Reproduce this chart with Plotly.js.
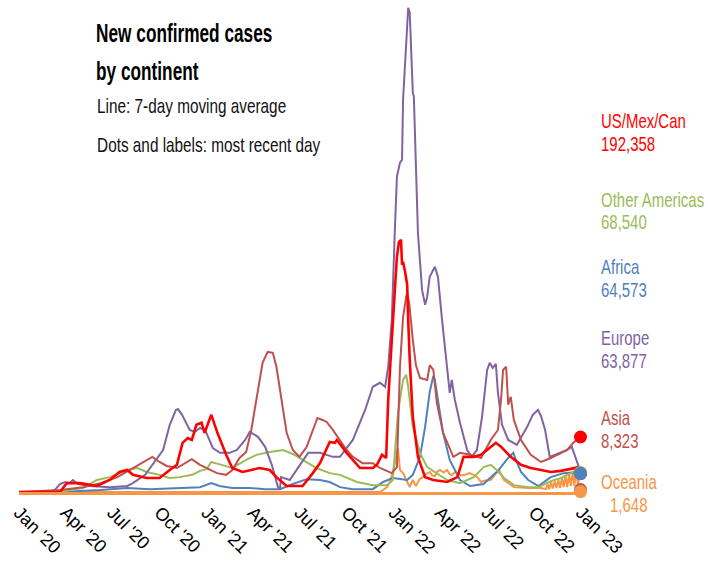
<!DOCTYPE html>
<html>
<head>
<meta charset="utf-8">
<script src="https://cdn.plot.ly/plotly-3.0.1.min.js"></script>
<style>
  html, body { margin: 0; padding: 0; background: #fff; }
  #chart { width: 708px; height: 561px; }
  /* narrow the annotation lettering to imitate the condensed face of the original */
  #chart .annotation-text {
    transform-box: fill-box;
    transform-origin: 0% 50%;
    transform: scaleX(0.73);
  }
  #chart .annotation[data-index="0"] .annotation-text,
  #chart .annotation[data-index="1"] .annotation-text {
    transform: scaleX(0.69);
  }
</style>
</head>
<body>
<div id="chart"></div>
<script>
// ---- Data (7-day moving average of new cases, in thousands) ----
const continents = ['US/Mex/Can', 'Other Americas', 'Africa', 'Europe', 'Asia', 'Oceania'];
const lastDate = '2022-12-31';
const lastDayValues = [192358, 68540, 64573, 63877, 8323, 1648];

const usDates = ['2020-01-01','2020-03-21','2020-03-31','2020-04-04','2020-04-29','2020-06-01','2020-06-26','2020-07-15','2020-07-30','2020-08-10','2020-09-06','2020-10-01','2020-10-21','2020-11-04','2020-11-15','2020-11-25','2020-12-03','2020-12-12','2020-12-22','2020-12-28','2021-01-10','2021-01-22','2021-02-08','2021-02-20','2021-03-12','2021-04-14','2021-05-04','2021-05-17','2021-06-06','2021-07-07','2021-07-27','2021-08-10','2021-08-29','2021-09-08','2021-09-12','2021-10-01','2021-10-27','2021-11-21','2021-11-29','2021-12-09','2021-12-17','2021-12-21','2021-12-28','2022-01-07','2022-01-11','2022-01-15','2022-01-17','2022-01-19','2022-01-23','2022-01-27','2022-01-29','2022-02-01','2022-02-07','2022-02-17','2022-03-03','2022-03-19','2022-04-15','2022-05-05','2022-05-17','2022-06-06','2022-06-20','2022-07-09','2022-07-19','2022-07-29','2022-08-17','2022-09-06','2022-09-25','2022-10-15','2022-11-03','2022-11-23','2022-12-12','2022-12-28'];
const usCases = [0,0,24,31,31,21,42,70,77,60,49,49,77,95,172,189,182,235,242,207,270,207,130,84,70,84,77,52,21,21,66,101,175,172,182,137,84,84,95,130,119,322,532,823,875,882,795,805,770,725,602,462,263,123,52,42,35,52,123,123,130,158,172,158,123,95,84,77,70,74,80,87];

const amDates = ['2020-01-01','2020-03-21','2020-04-09','2020-05-05','2020-06-01','2020-06-26','2020-07-30','2020-08-19','2020-09-06','2020-10-01','2020-10-21','2020-11-09','2020-12-04','2020-12-19','2021-01-01','2021-01-10','2021-01-30','2021-02-20','2021-03-19','2021-04-08','2021-05-04','2021-05-30','2021-06-18','2021-07-07','2021-08-03','2021-08-29','2021-09-18','2021-10-21','2021-11-21','2021-12-19','2021-12-30','2022-01-09','2022-01-19','2022-01-25','2022-01-29','2022-02-07','2022-02-21','2022-03-07','2022-03-26','2022-04-15','2022-05-10','2022-06-06','2022-06-25','2022-07-09','2022-07-19','2022-08-04','2022-08-23','2022-09-20','2022-10-10','2022-11-03','2022-11-23','2022-12-12','2022-12-28'];
const amCases = [0,0,7,14,42,52,77,84,70,60,49,52,60,74,80,105,95,84,112,130,140,147,133,112,84,66,60,35,24,24,42,276,392,410,368,228,137,87,66,42,31,52,87,95,80,49,24,17,17,38,49,66,84];

const afDates = ['2020-01-01','2020-03-21','2020-06-08','2020-07-30','2020-09-13','2020-11-09','2020-12-19','2021-01-10','2021-01-26','2021-02-20','2021-03-26','2021-04-25','2021-05-24','2021-06-18','2021-07-15','2021-08-10','2021-08-29','2021-09-18','2021-10-13','2021-11-21','2021-12-11','2021-12-30','2022-01-27','2022-02-07','2022-02-21','2022-03-03','2022-03-12','2022-03-19','2022-03-22','2022-03-28','2022-04-07','2022-04-20','2022-05-10','2022-05-30','2022-06-25','2022-07-23','2022-08-12','2022-08-22','2022-08-27','2022-09-06','2022-09-20','2022-10-10','2022-11-03','2022-11-28','2022-12-28'];
const afCases = [0,0,7,14,10,14,17,31,21,14,14,10,10,28,45,42,35,17,10,10,35,49,42,60,123,228,350,406,392,322,207,112,42,21,28,74,119,137,112,70,42,21,52,66,70];

const euDates = ['2020-01-01','2020-03-01','2020-03-11','2020-03-21','2020-03-31','2020-04-09','2020-04-15','2020-04-25','2020-05-18','2020-06-26','2020-07-30','2020-08-10','2020-09-03','2020-09-22','2020-10-08','2020-10-21','2020-11-02','2020-11-06','2020-11-14','2020-11-29','2020-12-09','2020-12-19','2020-12-29','2021-01-13','2021-01-27','2021-02-15','2021-03-01','2021-03-17','2021-03-26','2021-04-05','2021-04-11','2021-04-25','2021-05-08','2021-05-20','2021-05-24','2021-05-26','2021-06-12','2021-07-02','2021-07-18','2021-08-10','2021-09-04','2021-09-18','2021-10-13','2021-11-06','2021-11-21','2021-12-05','2021-12-15','2021-12-21','2021-12-28','2022-01-03','2022-01-07','2022-01-13','2022-01-17','2022-01-19','2022-01-25','2022-01-29','2022-02-01','2022-02-03','2022-02-07','2022-02-09','2022-02-13','2022-02-17','2022-02-25','2022-03-03','2022-03-07','2022-03-12','2022-03-22','2022-03-28','2022-04-05','2022-04-15','2022-04-20','2022-04-24','2022-04-30','2022-05-10','2022-05-24','2022-06-02','2022-06-12','2022-06-22','2022-07-02','2022-07-07','2022-07-13','2022-07-19','2022-07-23','2022-07-31','2022-08-12','2022-08-29','2022-09-18','2022-09-29','2022-10-09','2022-10-15','2022-10-23','2022-11-01','2022-11-21','2022-12-05','2022-12-14','2022-12-20','2022-12-30'];
const euCases = [0,0,7,28,35,31,42,28,21,17,21,31,60,105,147,235,287,290,270,217,210,224,217,154,137,137,147,182,210,200,193,158,95,17,10,52,42,95,137,137,123,123,182,287,368,382,368,438,602,917,1103,1152,1162,1372,1547,1694,1677,1582,1397,1383,1138,907,707,655,683,753,788,753,602,438,347,392,322,242,147,123,147,263,427,452,434,448,347,235,182,165,228,270,287,266,217,123,137,147,158,130,77];

const asDates = ['2020-01-01','2020-02-11','2020-03-21','2020-05-05','2020-06-08','2020-07-11','2020-08-10','2020-09-03','2020-09-17','2020-10-01','2020-10-15','2020-11-04','2020-11-20','2020-12-03','2020-12-19','2021-01-21','2021-02-08','2021-02-20','2021-03-06','2021-03-19','2021-03-29','2021-04-08','2021-04-20','2021-04-30','2021-05-10','2021-05-17','2021-05-27','2021-06-06','2021-06-18','2021-07-01','2021-07-15','2021-07-25','2021-08-05','2021-08-15','2021-08-23','2021-09-04','2021-09-18','2021-10-01','2021-10-13','2021-11-01','2021-11-21','2021-12-05','2021-12-28','2022-01-07','2022-01-13','2022-01-19','2022-01-25','2022-01-27','2022-01-31','2022-02-03','2022-02-07','2022-02-13','2022-02-21','2022-03-07','2022-03-12','2022-03-19','2022-03-26','2022-04-07','2022-04-27','2022-05-10','2022-05-30','2022-06-20','2022-07-09','2022-07-23','2022-07-29','2022-08-02','2022-08-08','2022-08-12','2022-08-17','2022-08-23','2022-09-06','2022-09-25','2022-10-15','2022-11-03','2022-11-23','2022-12-05','2022-12-17','2022-12-28'];
const asCases = [0,3,7,17,31,52,84,108,123,105,91,84,101,115,95,66,60,77,119,140,217,322,452,490,487,438,322,207,147,123,158,207,259,252,245,217,182,147,123,101,101,84,66,87,438,612,682,696,661,602,532,444,399,392,444,427,311,207,123,137,130,119,182,217,322,427,438,305,333,252,182,130,105,119,137,147,172,189];

const ocDates = ['2020-01-01','2021-12-05','2021-12-19','2021-12-26','2022-01-03','2022-01-09','2022-01-13','2022-01-19','2022-01-27','2022-02-01','2022-02-07','2022-02-13','2022-02-20','2022-02-27','2022-03-05','2022-03-12','2022-03-17','2022-03-22','2022-03-27','2022-04-01','2022-04-08','2022-04-15','2022-04-20','2022-04-24','2022-05-01','2022-05-05','2022-05-12','2022-05-20','2022-05-28','2022-06-06','2022-06-13','2022-06-20','2022-06-28','2022-07-09','2022-07-19','2022-07-25','2022-08-04','2022-08-14','2022-08-23','2022-09-20','2022-10-15','2022-10-25','2022-10-28','2022-10-31','2022-11-04','2022-11-07','2022-11-11','2022-11-14','2022-11-18','2022-11-21','2022-11-25','2022-11-28','2022-12-02','2022-12-05','2022-12-09','2022-12-12','2022-12-16','2022-12-19','2022-12-23','2022-12-26','2022-12-30'];
const ocCases = [0,0,17,42,101,154,77,66,35,17,42,21,45,52,63,70,58,56,72,77,68,77,62,60,70,66,58,60,66,60,52,35,40,42,66,77,42,28,17,14,14,10,28,10,35,12,38,14,42,14,49,17,56,17,63,21,70,21,77,24,66];

const tickDates = ['2020-01-01','2020-04-01','2020-07-01','2020-10-01','2021-01-01','2021-04-01','2021-07-01','2021-10-01','2022-01-01','2022-04-01','2022-07-01','2022-10-01','2023-01-01'];
const tickLabels = ["Jan '20","Apr '20","Jul '20","Oct '20","Jan '21","Apr '21","Jul '21","Oct '21","Jan '22","Apr '22","Jul '22","Oct '22","Jan '23"];

// ---- Styling ----
const colors = {
  'US/Mex/Can': '#ff0000',
  'Other Americas': '#9bbb59',
  'Africa': '#4f81bd',
  'Europe': '#8064a2',
  'Asia': '#c0504d',
  'Oceania': '#f79646'
};
const FONT = '"Liberation Sans", Arial, sans-serif';

const series = [
  { name: 'Oceania', x: ocDates, y: ocCases, w: 2 },
  { name: 'Africa', x: afDates, y: afCases, w: 2 },
  { name: 'Other Americas', x: amDates, y: amCases, w: 2 },
  { name: 'Europe', x: euDates, y: euCases, w: 2 },
  { name: 'Asia', x: asDates, y: asCases, w: 2 },
  { name: 'US/Mex/Can', x: usDates, y: usCases, w: 2.6 }
];

const traces = series.map(s => ({
  type: 'scatter', mode: 'lines', name: s.name,
  x: s.x, y: s.y,
  line: { color: colors[s.name], width: s.w },
  hoverinfo: 'skip'
}));

// Dots for most recent day
const dotOrder = ['Other Americas', 'Europe', 'Africa', 'US/Mex/Can', 'Asia', 'Oceania'];
dotOrder.forEach(name => {
  const i = continents.indexOf(name);
  traces.push({
    type: 'scatter', mode: 'markers', name: name + ' latest',
    x: [lastDate], y: [lastDayValues[i] / 1000],
    marker: { color: colors[name], size: 13 },
    cliponaxis: false, hoverinfo: 'skip'
  });
});

// ---- Layout ----
const L = 19, R = 127, T = 6, B = 69;
const plotW = 708 - L - R, plotH = 561 - T - B;
const px = x => (x - L) / plotW;
const py = y => (561 - B - y) / plotH;

const annotations = [];
function addText(text, x, y, size, color, bold, anchor) {
  annotations.push({
    text: bold ? '<b>' + text + '</b>' : text,
    xref: 'paper', yref: 'paper', x: px(x), y: py(y),
    xanchor: anchor || 'left', yanchor: 'middle', showarrow: false,
    font: { family: FONT, size: size, color: color }
  });
}
addText('New confirmed cases', 94, 33, 25, '#000', true);
addText('by continent', 94, 71, 25, '#000', true);
addText('Line: 7-day moving average', 95, 106, 21, '#111');
addText('Dots and labels: most recent day', 95, 144, 21, '#111');

const labelY = {
  'US/Mex/Can': [121, 143],
  'Other Americas': [199, 221],
  'Africa': [266, 289],
  'Europe': [337, 360],
  'Asia': [417, 440],
  'Oceania': [481, 504]
};
continents.forEach((name, i) => {
  const c = colors[name];
  const val = lastDayValues[i].toLocaleString('en-US');
  addText(name, 599, labelY[name][0], 20.5, c);
  if (name === 'Oceania') addText(val, 635.5, labelY[name][1], 20.5, c, false, 'center');
  else addText(val, 599, labelY[name][1], 20.5, c);
});

const layout = {
  width: 708, height: 561,
  margin: { l: L, r: R, t: T, b: B, pad: 0 },
  paper_bgcolor: '#fff', plot_bgcolor: '#fff',
  showlegend: false,
  font: { family: FONT, size: 17, color: '#000' },
  xaxis: {
    type: 'date',
    range: ['2020-01-01', '2023-01-01'],
    tickvals: tickDates, ticktext: tickLabels,
    tickangle: 45, ticks: '',
    tickfont: { family: FONT, size: 18, color: '#000' },
    showgrid: false, zeroline: false,
    showline: true, linecolor: '#f79646', linewidth: 3
  },
  yaxis: {
    range: [0, 1700],
    showgrid: false, zeroline: false, showline: false,
    showticklabels: false, ticks: ''
  },
  annotations: annotations
};

Plotly.newPlot('chart', traces, layout, { displayModeBar: false, staticPlot: true });
</script>
</body>
</html>
